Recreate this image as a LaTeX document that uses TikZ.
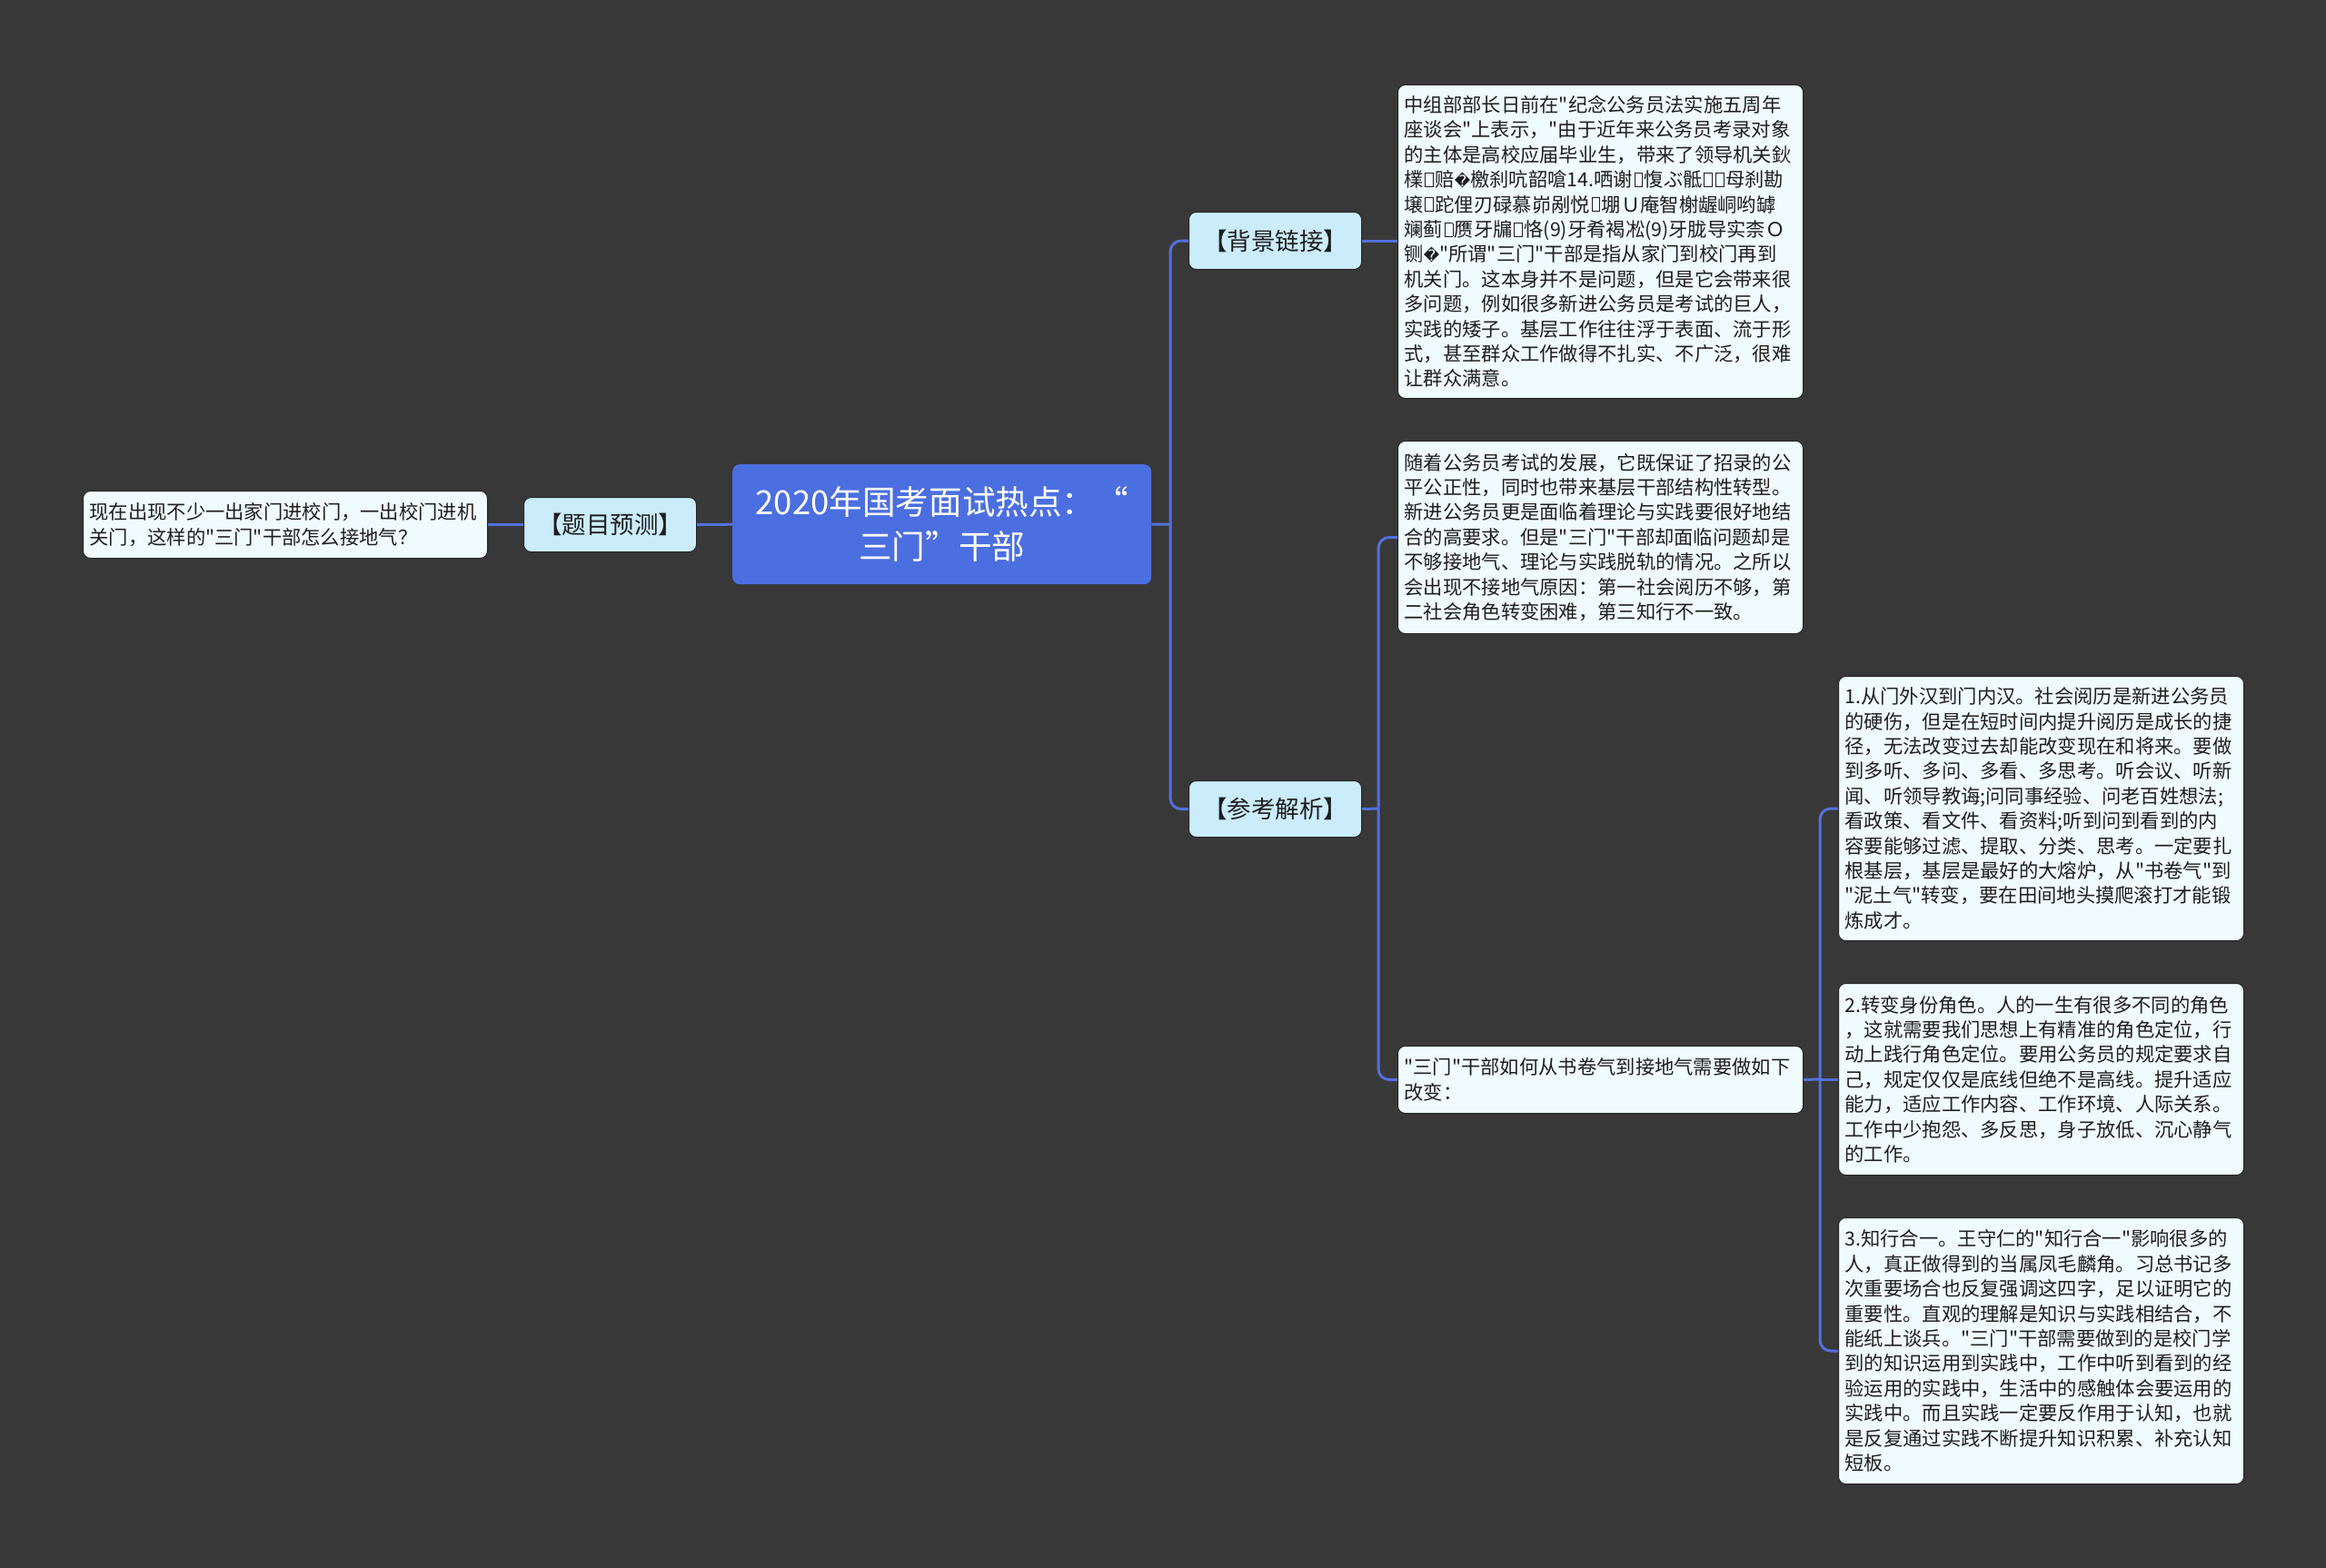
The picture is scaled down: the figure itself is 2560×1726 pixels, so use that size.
\documentclass[tikz,border=0pt]{standalone}
\usepackage{fontspec}
\setmainfont{Noto Sans CJK SC}[Ligatures=TeXOff]
\newfontfamily\dejavu{DejaVu Sans}
\newcommand{\rpc}{{\dejavu\fontsize{17pt}{17pt}\selectfont �}}
\newcommand{\bx}{\kern1.5pt\vbox{\hrule height .9pt\hbox{\vrule width .9pt height 14pt\kern 8pt\vrule width .9pt}\hrule height .9pt}\kern1.5pt}
\definecolor{bgc}{HTML}{393839}
\definecolor{mainblue}{HTML}{4B6EE0}
\definecolor{conn}{HTML}{5270DC}
\definecolor{labfill}{HTML}{CBECFB}
\definecolor{boxfill}{HTML}{F0FBFD}
\definecolor{boxline}{HTML}{262626}
\definecolor{textc}{HTML}{1E1E1E}
\tikzset{
  txtbox/.style={draw=boxline, line width=1pt, fill=boxfill, rounded corners=8pt,
    align=left, text width=432pt, inner xsep=7pt, inner ysep=6pt,
    minimum width=446pt, font=\fontsize{21.3pt}{27.4pt}\selectfont, text=textc, anchor=north west},
  labbox/.style={draw=boxline, line width=1pt, fill=labfill, rounded corners=8pt,
    align=center, minimum width=190pt, minimum height=62pt, inner sep=0pt,
    font=\fontsize{26.5pt}{30pt}\selectfont, text=textc, anchor=north west},
  mainbox/.style={fill=mainblue, rounded corners=8pt, align=center,
    minimum width=461pt, minimum height=132pt, inner sep=0pt,
    font=\fontsize{36.6pt}{49pt}\selectfont, text=white, anchor=north west},
  link/.style={draw=conn, line width=3pt},
  rlink/.style={draw=conn, line width=3pt, rounded corners=12pt}
}
\begin{document}
\begin{tikzpicture}[x=1pt,y=-1pt]
\useasboundingbox (0,0) rectangle (2560,1726);
\fill[bgc] (0,0) rectangle (2560,1726);

% nodes
\node[mainbox] (root) at (806,511) {2020年国考面试热点：“\\三门”干部};
\node[labbox, minimum height=60pt] (tm) at (576,547) {【题目预测】};
\node[labbox, minimum height=63pt] (bj) at (1308,233) {【背景链接】};
\node[labbox, minimum height=62pt] (ck) at (1308,859) {【参考解析】};

\node[txtbox, minimum width=445pt, text width=431pt, minimum height=74pt] (lq) at (91,540) {现在出现不少一出家门进校门，一出校门进机\\关门，这样的"三门"干部怎么接地气？};

\node[txtbox, minimum height=345pt] (t1) at (1538,93) {中组部部长日前在"纪念公务员法实施五周年\\座谈会"上表示，"由于近年来公务员考录对象\\的主体是高校应届毕业生，带来了领导机关鈥\\檏\bx 赔\rpc 檄刹吭韶嗆14.哂谢\bx 愎ぶ骶\bx\bx 母刹勘\\壌\bx 跎俚刃碌慕峁剐悦\bx 堋Ｕ庵智榭龌峒哟罅\\斓蓟\bx 赝牙牖\bx 恪(9)牙肴褐凇(9)牙胧导实柰Ｏ\\铡\rpc"所谓"三门"干部是指从家门到校门再到\\机关门。这本身并不是问题，但是它会带来很\\多问题，例如很多新进公务员是考试的巨人，\\实践的矮子。基层工作往往浮于表面、流于形\\式，甚至群众工作做得不扎实、不广泛，很难\\让群众满意。};

\node[txtbox, minimum height=212pt] (t2) at (1538,485) {随着公务员考试的发展，它既保证了招录的公\\平公正性，同时也带来基层干部结构性转型。\\新进公务员更是面临着理论与实践要很好地结\\合的高要求。但是"三门"干部却面临问题却是\\不够接地气、理论与实践脱轨的情况。之所以\\会出现不接地气原因：第一社会阅历不够，第\\二社会角色转变困难，第三知行不一致。};

\node[txtbox, minimum height=74pt] (sm) at (1538,1151) {"三门"干部如何从书卷气到接地气需要做如下\\改变：};

\node[txtbox, minimum height=291pt] (b1) at (2023,744) {1.从门外汉到门内汉。社会阅历是新进公务员\\的硬伤，但是在短时间内提升阅历是成长的捷\\径，无法改变过去却能改变现在和将来。要做\\到多听、多问、多看、多思考。听会议、听新\\闻、听领导教诲;问同事经验、问老百姓想法;\\看政策、看文件、看资料;听到问到看到的内\\容要能够过滤、提取、分类、思考。一定要扎\\根基层，基层是最好的大熔炉，从"书卷气"到\\"泥土气"转变，要在田间地头摸爬滚打才能锻\\炼成才。};

\node[txtbox, minimum height=211pt] (b2) at (2023,1082) {2.转变身份角色。人的一生有很多不同的角色\\，这就需要我们思想上有精准的角色定位，行\\动上践行角色定位。要用公务员的规定要求自\\己，规定仅仅是底线但绝不是高线。提升适应\\能力，适应工作内容、工作环境、人际关系。\\工作中少抱怨、多反思，身子放低、沉心静气\\的工作。};

\node[txtbox, minimum height=293pt] (b3) at (2023,1340) {3.知行合一。王守仁的"知行合一"影响很多的\\人，真正做得到的当属凤毛麟角。习总书记多\\次重要场合也反复强调这四字，足以证明它的\\重要性。直观的理解是知识与实践相结合，不\\能纸上谈兵。"三门"干部需要做到的是校门学\\到的知识运用到实践中，工作中听到看到的经\\验运用的实践中，生活中的感触体会要运用的\\实践中。而且实践一定要反作用于认知，也就\\是反复通过实践不断提升知识积累、补充认知\\短板。};

% spine coordinates
\coordinate (s1) at (1288,577);
\coordinate (s2) at (1517,890);
\coordinate (s3) at (2003,1188);

% connectors
\draw[link] (root.west) -- (tm.east);
\draw[link] (tm.west) -- (lq.east);
\draw[link] (root.east) -- (s1);
\draw[rlink] (bj.west) -| (s1) |- (ck.west);
\draw[link] (bj.east) -- (bj.east -| t1.west);
\draw[link] (ck.east) -- (s2);
\draw[rlink] (t2.west) -| (s2) |- (sm.west);
\draw[link] (sm.east) -- (s3);
\draw[rlink] (b1.west) -| (s3) |- (b3.west);
\draw[link] (s3) -- (b2.west);
\end{tikzpicture}
\end{document}
